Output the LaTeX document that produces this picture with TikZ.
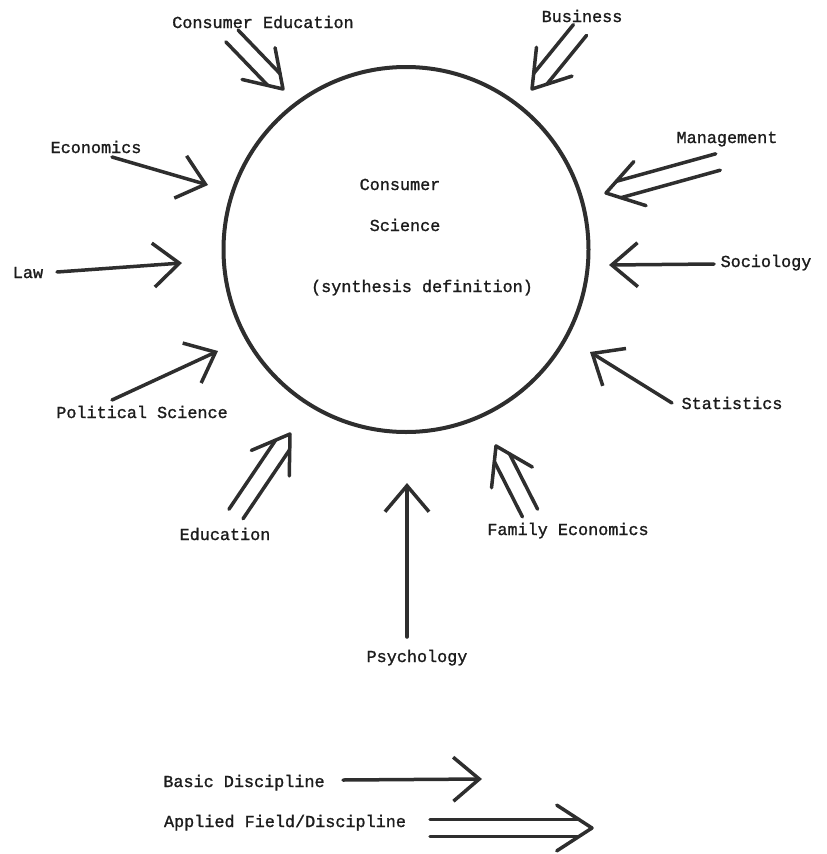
\documentclass[tikz,border=0pt]{standalone}
\usepackage{fontspec}
\newfontfamily\typewriter[FakeBold=1.3]{Liberation Mono}
\usetikzlibrary{arrows.meta,calc}
\definecolor{ink}{HTML}{2E2E2E}
\definecolor{typeink}{HTML}{1C1C1C}

% double-shafted arrow for an applied field: tail, tip
\newcommand{\appliedarrow}[2]{%
  \draw[applied] ($(#1)!8.5pt!90:(#2)$) -- ($(#2)!8.5pt!-90:(#1)$);
  \draw[applied] ($(#1)!8.5pt!-90:(#2)$) -- ($(#2)!8.5pt!90:(#1)$);
  \draw[appliedhead] ($(#2)!42pt!33:(#1)$) -- (#2) -- ($(#2)!42pt!-33:(#1)$);}

\begin{document}
\begin{tikzpicture}[
  x=1pt,y=-1pt,
  font=\typewriter\fontsize{16.8}{20}\selectfont,
  lbl/.style={anchor=base,inner sep=0pt,text=typeink},
  core/.style={draw=ink,line width=4pt,circle,minimum size=365pt,inner sep=0pt},
  basic/.style={draw=ink,line width=3.5pt,line cap=round,
                -{Straight Barb[length=26pt,width=44pt]}},
  applied/.style={draw=ink,line width=3.5pt,line cap=round,shorten >=13pt},
  appliedhead/.style={draw=ink,line width=3.5pt,line cap=round,line join=round},
]
\useasboundingbox (0,0) rectangle (827,854);

% The synthesis circle
\node[core] (core) at (406,249.5) {};
\node[lbl] (cons) at (400,190) {Consumer};
\node[lbl] (sci) at (405,231) {Science};
\node[lbl] (synth) at (422,292) {(synthesis definition)};

% Labels round the circle
\node[lbl] (consed) at (263,28) {Consumer Education};
\node[lbl] (bus) at (582,22) {Business};
\node[lbl] (mgmt) at (727,143) {Management};
\node[lbl] (econ) at (96,153) {Economics};
\node[lbl] (law) at (28,278) {Law};
\node[lbl] (soc) at (766,267) {Sociology};
\node[lbl] (stat) at (732,409) {Statistics};
\node[lbl] (polsci) at (142,418) {Political Science};
\node[lbl] (edu) at (225,540) {Education};
\node[lbl] (fam) at (568,535) {Family Economics};
\node[lbl] (psych) at (417,662) {Psychology};

% Arrow ends
\coordinate (econ-tail) at (112,157);   \coordinate (econ-tip) at (208,185);
\coordinate (law-tail) at (57,272);     \coordinate (law-tip) at (182,263);
\coordinate (polsci-tail) at (112,400); \coordinate (polsci-tip) at (218,351);
\coordinate (soc-tail) at (714,264);    \coordinate (soc-tip) at (609,265);
\coordinate (stat-tail) at (672,403);   \coordinate (stat-tip) at (590,352);
\coordinate (psych-tail) at (407,637);  \coordinate (psych-tip) at (407,483);

\coordinate (consed-tail) at (232,36);  \coordinate (consed-tip) at (283,89);
\coordinate (bus-tail) at (580,30);     \coordinate (bus-tip) at (532,89);
\coordinate (mgmt-tail) at (718,162);   \coordinate (mgmt-tip) at (606,193);
\coordinate (edu-tail) at (236,514);    \coordinate (edu-tip) at (290,434);
\coordinate (fam-tail) at (530,513);    \coordinate (fam-tip) at (496,446);

% Basic disciplines
\draw[basic] (econ-tail) -- (econ-tip);
\draw[basic] (law-tail) -- (law-tip);
\draw[basic] (polsci-tail) -- (polsci-tip);
\draw[basic] (soc-tail) -- (soc-tip);
\draw[basic] (stat-tail) -- (stat-tip);
\draw[basic] (psych-tail) -- (psych-tip);

% Applied fields
\appliedarrow{consed-tail}{consed-tip}
\appliedarrow{bus-tail}{bus-tip}
\appliedarrow{mgmt-tail}{mgmt-tip}
\appliedarrow{edu-tail}{edu-tip}
\appliedarrow{fam-tail}{fam-tip}

% Key
\node[lbl] (basickey) at (244,787) {Basic Discipline};
\node[lbl] (appkey) at (285,827) {Applied Field/Discipline};
\coordinate (basickey-tail) at (343,780); \coordinate (basickey-tip) at (482,779);
\coordinate (appkey-tail) at (430,828);   \coordinate (appkey-tip) at (592,828);
\draw[basic] (basickey-tail) -- (basickey-tip);
\appliedarrow{appkey-tail}{appkey-tip}

\end{tikzpicture}
\end{document}
